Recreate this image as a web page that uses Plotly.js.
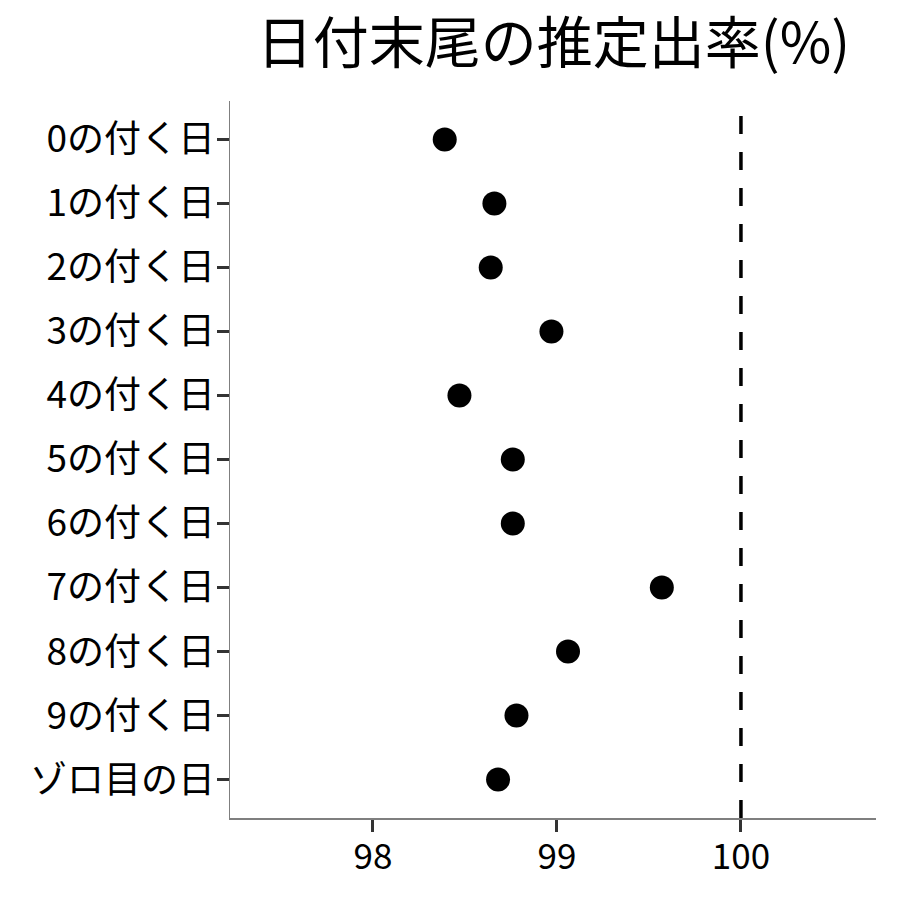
<!DOCTYPE html>
<html>
<head>
<meta charset="utf-8">
<script src="https://cdn.plot.ly/plotly-3.0.1.min.js"></script>
<style>html,body{margin:0;padding:0;background:#fff;}#chart{width:900px;height:900px;}</style>
</head>
<body>
<div id="chart"></div>
<script>
const categories = ["0の付く日","1の付く日","2の付く日","3の付く日","4の付く日","5の付く日","6の付く日","7の付く日","8の付く日","9の付く日","ゾロ目の日"];
const rates = [98.39, 98.66, 98.64, 98.97, 98.47, 98.76, 98.76, 99.57, 99.06, 98.78, 98.68];
const xTicks = [98, 99, 100];
const refLine = 100;
const titleText = "日付末尾の推定出率(%)";

const FONT = '"Noto Sans CJK JP", "Noto Sans", sans-serif';

const trace = {
  type: 'scatter',
  mode: 'markers',
  x: rates,
  y: categories,
  marker: {color: '#000000', size: 24, line: {width: 0}},
  hoverinfo: 'x+y',
  cliponaxis: false
};

const layout = {
  width: 900,
  height: 900,
  paper_bgcolor: '#ffffff',
  plot_bgcolor: '#ffffff',
  margin: {l: 230, r: 24, t: 101, b: 82, pad: 0},
  showlegend: false,
  font: {family: FONT, color: '#000000'},
  title: {
    text: titleText,
    font: {family: FONT, size: 56, color: '#000000'},
    x: 0.615, xanchor: 'center',
    y: 0.952, yanchor: 'middle'
  },
  xaxis: {
    range: [97.223, 100.734],
    tickvals: xTicks,
    ticktext: xTicks.map(String),
    showgrid: false,
    zeroline: false,
    showline: true,
    linecolor: '#7f7f7f',
    linewidth: 1.5,
    ticks: 'outside',
    ticklen: 12,
    tickwidth: 3,
    tickcolor: '#333333',
    ticklabelstandoff: -5,
    tickfont: {family: FONT, size: 35, color: '#000000'}
  },
  yaxis: {
    type: 'category',
    categoryorder: 'array',
    categoryarray: categories,
    range: [10.6, -0.6],
    showgrid: false,
    zeroline: false,
    showline: true,
    linecolor: '#7f7f7f',
    linewidth: 1.5,
    ticks: 'outside',
    ticklen: 12,
    tickwidth: 3,
    tickcolor: '#333333',
    ticklabelstandoff: -6,
    tickfont: {family: FONT, size: 37, color: '#000000'}
  },
  shapes: [{
    type: 'line',
    xref: 'x', yref: 'paper',
    x0: refLine, x1: refLine, y0: 0, y1: 1,
    line: {color: '#000000', width: 3.5, dash: '18px,18px'},
    layer: 'above'
  }]
};

Plotly.newPlot('chart', [trace], layout, {displayModeBar: false, staticPlot: true});
</script>
</body>
</html>
